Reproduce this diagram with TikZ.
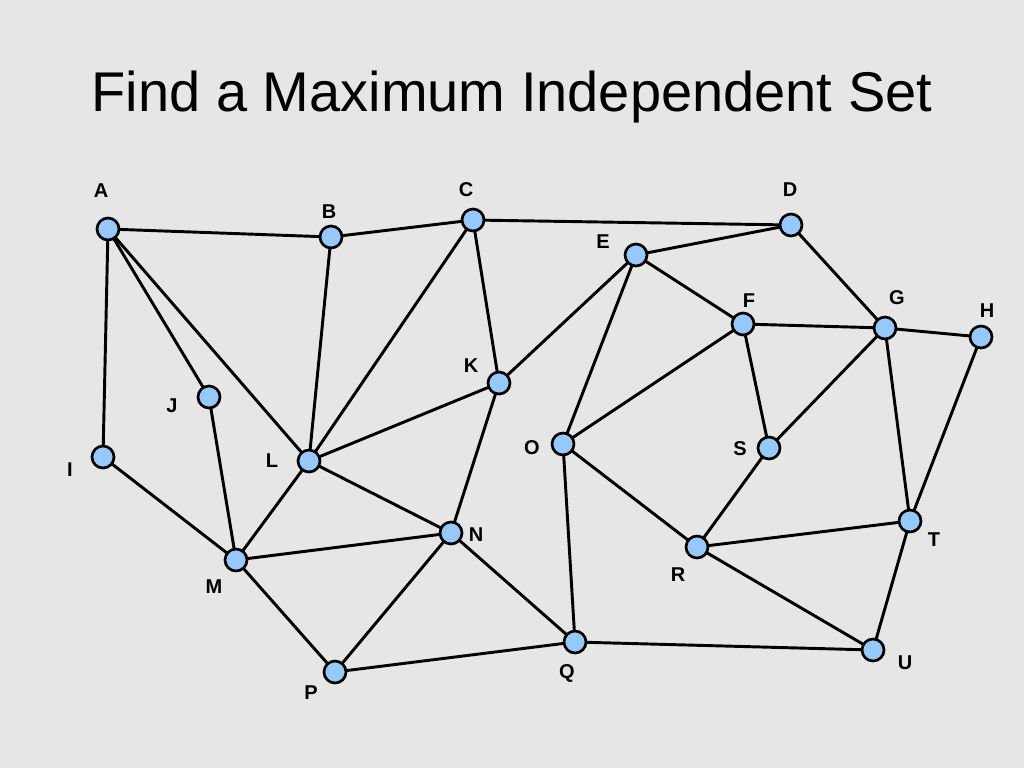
\documentclass[tikz,border=0pt]{standalone}
\usepackage{fontspec}
\setmainfont{Liberation Sans}
\definecolor{bg}{RGB}{230,230,230}
\definecolor{nodefill}{RGB}{150,200,250}
\begin{document}
\begin{tikzpicture}[x=0.75pt,y=-0.75pt,
  vert/.style={circle,draw=black,line width=2pt,fill=nodefill,minimum size=16.5pt,inner sep=0pt},
  lab/.style={font=\bfseries\fontsize{15}{15}\selectfont},
  edge/.style={line width=2.2pt}]
\fill[bg] (0,0) rectangle (1024,768);
\useasboundingbox (0,0) rectangle (1024,768);
\node[font=\fontsize{42}{42}\selectfont] (title) at (512,97) {Find a Maximum Independent Set};
\foreach \n/\x/\y in {A/108/229,B/331/237,C/473/220,D/791/225,E/636/255,F/743/324,G/885/328,H/981/337,J/209/397,K/499/383,I/103/457,L/309/461,O/563/444,S/769/448,N/451/533,T/910/521,M/236/560,R/697/547,Q/575/642,U/873/650,P/335/672}
  \coordinate (\n) at (\x,\y);
\foreach \a/\b in {A/B,B/C,C/D,A/I,A/J,A/L,B/L,C/L,C/K,K/L,K/E,K/N,L/M,L/N,M/N,M/J,M/I,M/P,N/P,N/Q,P/Q,Q/U,Q/O,O/E,O/F,O/R,E/D,E/F,D/G,F/G,G/H,F/S,G/S,S/R,G/T,H/T,R/T,R/U,T/U}
  \draw[edge] (\a) -- (\b);
\foreach \n in {A,B,C,D,E,F,G,H,J,K,I,L,O,S,N,T,M,R,Q,U,P}
  \node[vert] (v\n) at (\n) {};
\foreach \n/\x/\y in {A/101/191,B/329/212,C/466/190,D/790/190,E/603/242,F/749/301,G/897/298,H/987/311,J/172/406,K/471/366,I/70/470,L/272/461,O/532/448,S/740/449,N/476/535,T/934/540,M/214/587,R/678/575,Q/567/673,U/905/663,P/311/693}
  \node[lab] (l\n) at (\x,\y) {\n};
\end{tikzpicture}
\end{document}
